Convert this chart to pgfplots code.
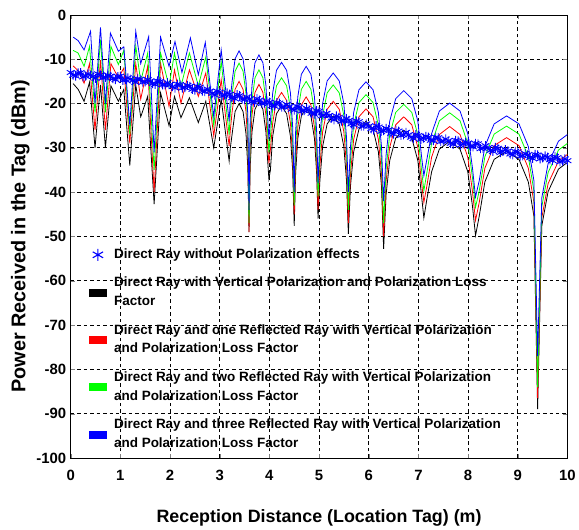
\documentclass[border=0pt]{standalone}
\usepackage{fontspec}
\setmainfont{Liberation Sans}
\usepackage{pgfplots}
\pgfplotsset{compat=1.18}
\definecolor{mblue}{RGB}{0,0,255}
\definecolor{mgreen}{RGB}{0,255,0}
\definecolor{mred}{RGB}{255,0,0}
\newcommand{\lgtext}[1]{\hspace*{8bp}\begin{tabular}{@{}l@{}}\rule{0pt}{18bp}#1\rule[-10.5bp]{0pt}{0pt}\end{tabular}}

\begin{document}
\begin{tikzpicture}
\begin{axis}[
  name=main,
  scale only axis,
  width=499bp, height=445bp,
  xmin=0, xmax=10, ymin=-100, ymax=0,
  xtick={0,1,...,10}, ytick={-100,-90,...,0},
  /pgf/number format/assume math mode=true,
  ticklabel style={font=\fontsize{15}{15}\selectfont\bfseries},
  xticklabel style={yshift=-9bp},
  yticklabel style={xshift=-1bp},
  xlabel={Reception Distance (Location Tag) (m)},
  ylabel={Power Received in the Tag (dBm)},
  xlabel style={font=\fontsize{18}{18}\selectfont\bfseries},
  ylabel style={font=\fontsize{20}{20}\selectfont\bfseries},
  xlabel shift=22bp,
  ylabel shift=0bp,
  xmajorgrids=true, ymajorgrids=true,
  grid style={black, dash pattern=on 3.5bp off 3bp, line width=0.7bp},
  tick align=inside,
  legend style={at={(axis cs:0.36,-50.9)}, anchor=north west,
    draw=none, fill=none, inner sep=0pt,
    nodes={inner sep=0pt, text depth=},
    font=\fontsize{13.6}{19}\selectfont\bfseries},
  legend cell align=left,
]
% black: direct ray, vertical polarization + PLF
\addplot[black, line width=0.8bp, forget plot] coordinates {
(0.05,-15.5) (0.15,-16.8) (0.27,-19.5) (0.38,-15.2) (0.49,-30) (0.6,-15.8) (0.7,-30) (0.81,-16) (0.96,-19.5) (1.07,-16.8) (1.19,-34) (1.31,-15.8) (1.41,-23) (1.55,-18.4) (1.68,-42.7) (1.81,-17.6) (1.98,-25) (2.09,-18.4) (2.22,-23.2) (2.39,-18.7) (2.57,-24.3) (2.72,-19.5) (2.88,-30)
(3.03,-19) (3.19,-33)
(3.214,-30) (3.25,-26.9) (3.31,-21.8) (3.39,-20) (3.47,-21.8) (3.53,-26.9) (3.566,-34.6) (3.59,-49)
(3.614,-34.1) (3.65,-26.4) (3.71,-21.3) (3.79,-19.5) (3.87,-21.3) (3.93,-26.4) (3.966,-33) (3.99,-37)
(4.02,-35.1) (4.067,-27.4) (4.143,-22.3) (4.245,-20.5) (4.347,-22.3) (4.424,-27.4) (4.469,-35.1) (4.5,-47.6)
(4.529,-35.6) (4.572,-27.9) (4.644,-22.8) (4.74,-21) (4.836,-22.8) (4.908,-27.9) (4.951,-35.6) (4.98,-46)
(5.017,-37.4) (5.072,-29.7) (5.163,-24.6) (5.285,-22.8) (5.407,-24.6) (5.499,-29.7) (5.553,-37.4) (5.59,-49.4)
(5.633,-38.6) (5.697,-30.9) (5.803,-25.8) (5.945,-24) (6.087,-25.8) (6.194,-30.9) (6.257,-38.6) (6.3,-52.8)
(6.349,-40.6) (6.422,-32.9) (6.543,-27.8) (6.705,-26) (6.867,-27.8) (6.989,-32.9) (7.061,-40.6) (7.11,-45.8)
(7.172,-41.5) (7.266,-35.4) (7.422,-30.3) (7.63,-28.5) (7.838,-30.3) (7.994,-35.4) (8.088,-43.1) (8.15,-49.8)
(8.225,-45.4) (8.338,-37.7) (8.525,-32.6) (8.775,-30.8) (9.025,-32.6) (9.213,-37.7) (9.325,-45.4) (9.4,-89)
(9.484,-47.6) (9.61,-39.9) (9.82,-34.8) (10,-33.3)
};
% red: direct + one reflected ray
\addplot[mred, line width=0.8bp, forget plot] coordinates {
(0.05,-11.5) (0.15,-12.6) (0.27,-15.4) (0.38,-11) (0.49,-26) (0.6,-10.2) (0.7,-26) (0.81,-11) (0.96,-14.2) (1.07,-12) (1.19,-29) (1.31,-11) (1.41,-19) (1.55,-11.6) (1.68,-40) (1.81,-10.9) (1.98,-20.6) (2.09,-12.4) (2.22,-19.9) (2.39,-12.4) (2.57,-18.4) (2.72,-13.1) (2.88,-27.3)
(3.03,-14.6) (3.19,-29.6)
(3.214,-26) (3.25,-21.9) (3.31,-16.8) (3.39,-15) (3.47,-16.8) (3.53,-21.9) (3.566,-29.6) (3.59,-49)
(3.614,-30.3) (3.65,-22.6) (3.71,-17.5) (3.79,-15.7) (3.87,-17.5) (3.93,-22.6) (3.966,-29.5) (3.99,-33.5)
(4.02,-30.5) (4.067,-24.4) (4.143,-19.3) (4.245,-17.5) (4.347,-19.3) (4.424,-24.4) (4.469,-32.1) (4.5,-45)
(4.529,-33.1) (4.572,-25.4) (4.644,-20.3) (4.74,-18.5) (4.836,-20.3) (4.908,-25.4) (4.951,-33.1) (4.98,-44)
(5.017,-34.1) (5.072,-26.4) (5.163,-21.3) (5.285,-19.5) (5.407,-21.3) (5.499,-26.4) (5.553,-34.1) (5.59,-47)
(5.633,-35.8) (5.697,-28.1) (5.803,-23) (5.945,-21.2) (6.087,-23) (6.194,-28.1) (6.257,-35.8) (6.3,-50)
(6.349,-37.6) (6.422,-29.9) (6.543,-24.8) (6.705,-23) (6.867,-24.8) (6.989,-29.9) (7.061,-37.6) (7.11,-42.3)
(7.172,-38.5) (7.266,-32.1) (7.422,-27) (7.63,-25.2) (7.838,-27) (7.994,-32.1) (8.088,-39.8) (8.15,-46.4)
(8.225,-42.3) (8.338,-34.6) (8.525,-29.5) (8.775,-27.7) (9.025,-29.5) (9.213,-34.6) (9.325,-42.3) (9.4,-86.5)
(9.484,-45.8) (9.61,-38.1) (9.82,-33) (10,-31.5)
};
% green: direct + two reflected rays
\addplot[mgreen, line width=0.8bp, forget plot] coordinates {
(0.05,-8) (0.15,-8.6) (0.27,-11.6) (0.38,-7.1) (0.49,-22) (0.6,-5.6) (0.7,-22) (0.81,-7.1) (0.96,-11.2) (1.07,-8) (1.19,-27) (1.31,-7) (1.41,-15) (1.55,-8.6) (1.68,-35) (1.81,-8.6) (1.98,-16.1) (2.09,-8.6) (2.22,-16.1) (2.39,-8.6) (2.57,-16) (2.72,-9.5) (2.88,-25)
(3.03,-10.5) (3.19,-27)
(3.214,-22) (3.25,-17.8) (3.31,-12.7) (3.39,-10.9) (3.47,-12.7) (3.53,-17.8) (3.566,-25.5) (3.59,-47)
(3.614,-27) (3.65,-19.3) (3.71,-14.2) (3.79,-12.4) (3.87,-14.2) (3.93,-19.3) (3.966,-26.5) (3.99,-31)
(4.02,-27.5) (4.067,-21.1) (4.143,-16) (4.245,-14.2) (4.347,-16) (4.424,-21.1) (4.469,-28.8) (4.5,-43)
(4.529,-29.6) (4.572,-21.9) (4.644,-16.8) (4.74,-15) (4.836,-16.8) (4.908,-21.9) (4.951,-29.6) (4.98,-41)
(5.017,-30.4) (5.072,-22.7) (5.163,-17.6) (5.285,-15.8) (5.407,-17.6) (5.499,-22.7) (5.553,-30.4) (5.59,-44)
(5.633,-32.6) (5.697,-24.9) (5.803,-19.8) (5.945,-18) (6.087,-19.8) (6.194,-24.9) (6.257,-32.6) (6.3,-47)
(6.349,-34.8) (6.422,-27.1) (6.543,-22) (6.705,-20.2) (6.867,-22) (6.989,-27.1) (7.061,-34.8) (7.11,-39.7)
(7.172,-35.5) (7.266,-29) (7.422,-23.9) (7.63,-22.1) (7.838,-23.9) (7.994,-29) (8.088,-36.7) (8.15,-43.4)
(8.225,-39.7) (8.338,-32) (8.525,-26.9) (8.775,-25.1) (9.025,-26.9) (9.213,-32) (9.325,-39.7) (9.4,-84)
(9.484,-43.3) (9.61,-35.6) (9.82,-30.5) (10,-29)
};
% blue: direct + three reflected rays
\addplot[mblue, line width=0.8bp, forget plot] coordinates {
(0.05,-5) (0.15,-5.8) (0.27,-7.9) (0.4,-3.7) (0.49,-20) (0.6,-2.8) (0.7,-20) (0.8,-4.1) (0.96,-8.2) (1.07,-7.2) (1.19,-25) (1.31,-3.7) (1.41,-11) (1.57,-4.9) (1.68,-31) (1.81,-5) (1.98,-11.6) (2.1,-6) (2.24,-13) (2.41,-5.2) (2.57,-13.5) (2.71,-6.2) (2.88,-23)
(3.03,-7.9) (3.19,-24)
(3.214,-19) (3.25,-15) (3.31,-9.9) (3.39,-8.1) (3.47,-9.9) (3.53,-15) (3.566,-22.7) (3.59,-44)
(3.614,-23.6) (3.65,-15.9) (3.71,-10.8) (3.79,-9) (3.87,-10.8) (3.93,-15.9) (3.966,-23) (3.99,-28)
(4.02,-24) (4.067,-17.6) (4.143,-12.5) (4.245,-10.7) (4.347,-12.5) (4.424,-17.6) (4.469,-25.3) (4.5,-40)
(4.529,-26.2) (4.572,-18.5) (4.644,-13.4) (4.74,-11.6) (4.836,-13.4) (4.908,-18.5) (4.951,-26.2) (4.98,-38)
(5.017,-27.7) (5.072,-20) (5.163,-14.9) (5.285,-13.1) (5.407,-14.9) (5.499,-20) (5.553,-27.7) (5.59,-40)
(5.633,-29.7) (5.697,-22) (5.803,-16.9) (5.945,-15.1) (6.087,-16.9) (6.194,-22) (6.257,-29.7) (6.3,-42)
(6.349,-31.7) (6.422,-24) (6.543,-18.9) (6.705,-17.1) (6.867,-18.9) (6.989,-24) (7.061,-31.7) (7.11,-36.3)
(7.172,-32.5) (7.266,-26.8) (7.422,-21.7) (7.63,-19.9) (7.838,-21.7) (7.994,-26.8) (8.088,-34.5) (8.15,-41.1)
(8.225,-37.4) (8.338,-29.7) (8.525,-24.6) (8.775,-22.8) (9.025,-24.6) (9.213,-29.7) (9.325,-37.4) (9.4,-77)
(9.484,-41.3) (9.61,-33.6) (9.82,-28.5) (10,-27)
};
% direct ray without polarization effects (asterisks)
\addplot[mblue, line width=1bp, mark=asterisk, mark size=4.5bp,
  mark options={line width=0.9bp}, forget plot] coordinates {
(0.0,-13.0) (0.05,-13.6) (0.1,-13.8) (0.15,-13.1) (0.2,-13.0) (0.25,-14.0) (0.3,-13.8) (0.35,-13.3) (0.4,-13.6) (0.45,-13.9)
(0.5,-14.3) (0.55,-13.3) (0.6,-13.5) (0.65,-14.2) (0.7,-14.1) (0.75,-13.6) (0.8,-13.8) (0.85,-14.4) (0.9,-14.6) (0.95,-13.9)
(1.0,-13.8) (1.05,-14.8) (1.1,-14.6) (1.15,-14.2) (1.2,-14.5) (1.25,-14.8) (1.3,-15.2) (1.35,-14.4) (1.4,-14.5) (1.45,-15.2)
(1.5,-15.1) (1.55,-14.6) (1.6,-14.9) (1.65,-15.5) (1.7,-15.7) (1.75,-14.9) (1.8,-15.0) (1.85,-15.8) (1.9,-15.8) (1.95,-15.3)
(2.0,-15.7) (2.05,-16.2) (2.1,-16.5) (2.15,-15.6) (2.2,-15.7) (2.25,-16.5) (2.3,-16.4) (2.35,-15.9) (2.4,-16.1) (2.45,-16.8)
(2.5,-17.0) (2.55,-16.1) (2.6,-16.3) (2.65,-17.2) (2.7,-17.3) (2.75,-16.7) (2.8,-17.2) (2.85,-17.7) (2.9,-18.1) (2.95,-17.2)
(3.0,-17.4) (3.05,-18.3) (3.1,-18.1) (3.15,-17.6) (3.2,-17.9) (3.25,-18.7) (3.3,-18.9) (3.35,-18.0) (3.4,-18.2) (3.45,-19.0)
(3.5,-19.1) (3.55,-18.5) (3.6,-19.0) (3.65,-19.6) (3.7,-19.8) (3.75,-18.9) (3.8,-19.2) (3.85,-20.0) (3.9,-19.9) (3.95,-19.4)
(4.0,-19.7) (4.05,-20.5) (4.1,-20.6) (4.15,-19.8) (4.2,-19.9) (4.25,-20.8) (4.3,-20.8) (4.35,-20.2) (4.4,-20.7) (4.45,-21.3)
(4.5,-21.5) (4.55,-20.6) (4.6,-20.8) (4.65,-21.7) (4.7,-21.6) (4.75,-21.1) (4.8,-21.4) (4.85,-22.2) (4.9,-22.4) (4.95,-21.6)
(5.0,-21.7) (5.05,-22.8) (5.1,-22.7) (5.15,-22.2) (5.2,-22.7) (5.25,-23.3) (5.3,-23.7) (5.35,-22.8) (5.4,-23.1) (5.45,-24.0)
(5.5,-23.9) (5.55,-23.4) (5.6,-23.8) (5.65,-24.6) (5.7,-24.8) (5.75,-23.9) (5.8,-24.1) (5.85,-25.1) (5.9,-25.1) (5.95,-24.6)
(6.0,-25.1) (6.05,-25.7) (6.1,-26.0) (6.15,-25.0) (6.2,-25.3) (6.25,-26.3) (6.3,-26.1) (6.35,-25.6) (6.4,-25.9) (6.45,-26.7)
(6.5,-26.9) (6.55,-26.0) (6.6,-26.2) (6.65,-27.2) (6.7,-27.1) (6.75,-26.5) (6.8,-27.1) (6.85,-27.6) (6.9,-27.9) (6.95,-27.0)
(7.0,-27.2) (7.05,-28.1) (7.1,-27.8) (7.15,-27.4) (7.2,-27.6) (7.25,-28.3) (7.3,-28.4) (7.35,-27.6) (7.4,-27.7) (7.45,-28.6)
(7.5,-28.5) (7.55,-28.0) (7.6,-28.4) (7.65,-29.0) (7.7,-29.2) (7.75,-28.3) (7.8,-28.4) (7.85,-29.4) (7.9,-29.1) (7.95,-28.7)
(8.0,-28.9) (8.05,-29.7) (8.1,-29.8) (8.15,-29.0) (8.2,-29.1) (8.25,-30.2) (8.3,-30.1) (8.35,-29.5) (8.4,-30.0) (8.45,-30.6)
(8.5,-30.8) (8.55,-29.9) (8.6,-30.1) (8.65,-31.1) (8.7,-30.8) (8.75,-30.4) (8.8,-30.7) (8.85,-31.4) (8.9,-31.6) (8.95,-30.8)
(9.0,-30.9) (9.05,-31.9) (9.1,-31.8) (9.15,-31.3) (9.2,-31.6) (9.25,-32.2) (9.3,-32.4) (9.35,-31.5) (9.4,-31.6) (9.45,-32.5)
(9.5,-32.3) (9.55,-31.8) (9.6,-32.1) (9.65,-32.7) (9.7,-32.9) (9.75,-32.0) (9.8,-32.2) (9.85,-33.2) (9.9,-33.0) (9.95,-32.5)
(10.0,-32.9)
};
% legend
\addlegendimage{legend image code/.code={
  \draw[mblue, line width=1.1bp] plot[mark=asterisk, mark size=6bp] coordinates {(9bp,0bp)};}}
\addlegendentry{\lgtext{Direct Ray without Polarization effects}}
\addlegendimage{legend image code/.code={\fill[black] (0bp,-3.5bp) rectangle (17bp,3.5bp);}}
\addlegendentry{\lgtext{Direct Ray with Vertical Polarization and Polarization Loss\\Factor}}
\addlegendimage{legend image code/.code={\fill[mred] (0bp,-3.5bp) rectangle (17bp,3.5bp);}}
\addlegendentry{\lgtext{Direct Ray and one Reflected Ray with Vertical Polarization\\and Polarization Loss Factor}}
\addlegendimage{legend image code/.code={\fill[mgreen] (0bp,-3.5bp) rectangle (17bp,3.5bp);}}
\addlegendentry{\lgtext{Direct Ray and two Reflected Ray with Vertical  Polarization\\and Polarization Loss Factor}}
\addlegendimage{legend image code/.code={\fill[mblue] (0bp,-3.5bp) rectangle (17bp,3.5bp);}}
\addlegendentry{\lgtext{Direct Ray and three Reflected Ray with Vertical Polarization\\and Polarization Loss Factor}}
\end{axis}
\path ([yshift=15bp]main.north) -- (main.south) -- ([xshift=-71bp]main.west);
\end{tikzpicture}
\end{document}
